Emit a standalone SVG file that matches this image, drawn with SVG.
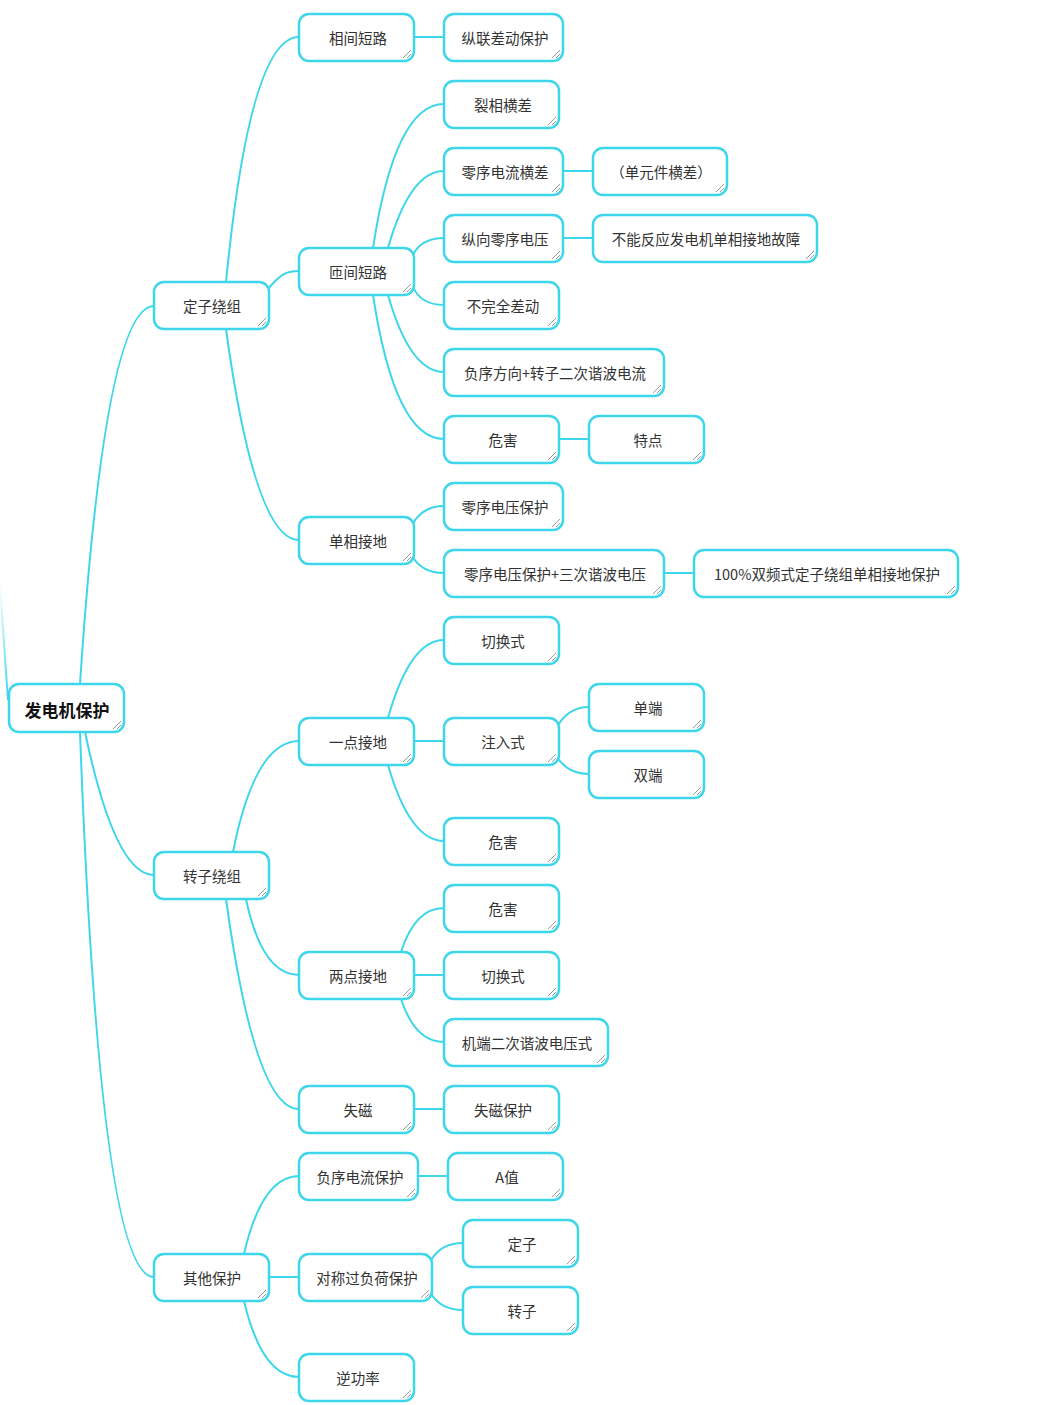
<svg xmlns="http://www.w3.org/2000/svg" xmlns:xlink="http://www.w3.org/1999/xlink" width="1038" height="1405" viewBox="0 0 1038 1405">
<style>
  .box { fill: #ffffff; stroke: #3dd6ea; stroke-width: 2.5; }
  .t { font-family: "Noto Sans CJK SC", "Noto Sans", sans-serif; font-size: 14.5px; fill: #333333; text-anchor: middle; dominant-baseline: central; }
  .root { font-size: 17px; font-weight: bold; fill: #111111; }
  .c { fill: none; stroke: #3dd6ea; stroke-width: 2; }
  .grip { stroke: #9a9a9a; stroke-width: 1; fill: none; }
</style>
<defs>
  <g id="grip">
    <path class="grip" d="M-11,-3 L-3,-11 M-7,-3 L-3,-7"/>
  </g>
  <linearGradient id="fade" x1="0" y1="0" x2="0" y2="1">
    <stop offset="0" stop-color="#3dd6ea" stop-opacity="0"/>
    <stop offset="1" stop-color="#3dd6ea" stop-opacity="1"/>
  </linearGradient>
</defs>
<rect width="1038" height="1405" fill="#ffffff"/>

<g id="connectors">
  <path d="M0,585 L8,700" fill="none" stroke="url(#fade)" stroke-width="2"/>
  <path class="c" d="M80,684 Q105,306 154,306"/>
  <path class="c" d="M85,732 Q115,875 154,875"/>
  <path class="c" d="M80,732 Q100,1277 154,1277"/>

  <path class="c" d="M226,282 Q250,37 299,37"/>
  <path class="c" d="M267,290 C280,275 285,271 299,271"/>
  <path class="c" d="M226,329 Q255,540 299,540"/>

  <path class="c" d="M414,37 L444,37"/>

  <path class="c" d="M373,248 Q395,104 444,104"/>
  <path class="c" d="M388,248 Q410,171 444,171"/>
  <path class="c" d="M412,257 Q420,238 444,238"/>
  <path class="c" d="M412,285 Q420,305 444,305"/>
  <path class="c" d="M388,295 Q410,372 444,372"/>
  <path class="c" d="M373,295 Q395,439 444,439"/>

  <path class="c" d="M563,171 L593,171"/>
  <path class="c" d="M563,238 L593,238"/>
  <path class="c" d="M559,439 L589,439"/>

  <path class="c" d="M412,525 Q422,506 444,506"/>
  <path class="c" d="M412,556 Q422,573 444,573"/>
  <path class="c" d="M664,573 L694,573"/>

  <path class="c" d="M233,852 Q255,741 299,741"/>
  <path class="c" d="M246,899 Q262,975 299,975"/>
  <path class="c" d="M226,899 Q255,1109 299,1109"/>

  <path class="c" d="M388,718 Q410,640 444,640"/>
  <path class="c" d="M414,741 L444,741"/>
  <path class="c" d="M388,765 Q410,841 444,841"/>

  <path class="c" d="M557,727 Q568,707 589,707"/>
  <path class="c" d="M557,757 Q568,774 589,774"/>

  <path class="c" d="M401,952 Q415,908 444,908"/>
  <path class="c" d="M414,975 L444,975"/>
  <path class="c" d="M401,999 Q415,1042 444,1042"/>

  <path class="c" d="M414,1109 L444,1109"/>

  <path class="c" d="M244,1254 Q262,1176 299,1176"/>
  <path class="c" d="M269,1277 L299,1277"/>
  <path class="c" d="M244,1301 Q262,1377 299,1377"/>

  <path class="c" d="M418,1176 L448,1176"/>
  <path class="c" d="M430,1262 Q440,1243 463,1243"/>
  <path class="c" d="M430,1292 Q440,1310 463,1310"/>
</g>

<g id="n-root"><rect class="box" x="9" y="684" width="115" height="48" rx="10"/><use href="#grip" x="124" y="732"/><text class="t root" x="67" y="709">发电机保护</text></g>

<g id="n-dzrz"><rect class="box" x="154" y="282" width="115" height="47" rx="10"/><use href="#grip" x="269" y="329"/><text class="t" x="212" y="305">定子绕组</text></g>
<g id="n-zzrz"><rect class="box" x="154" y="852" width="115" height="47" rx="10"/><use href="#grip" x="269" y="899"/><text class="t" x="212" y="875">转子绕组</text></g>
<g id="n-qtbh"><rect class="box" x="154" y="1254" width="115" height="47" rx="10"/><use href="#grip" x="269" y="1301"/><text class="t" x="212" y="1277">其他保护</text></g>

<g id="n-xjdl"><rect class="box" x="299" y="14" width="115" height="47" rx="10"/><use href="#grip" x="414" y="61"/><text class="t" x="358" y="37">相间短路</text></g>
<g id="n-zjdl"><rect class="box" x="299" y="248" width="115" height="47" rx="10"/><use href="#grip" x="414" y="295"/><text class="t" x="358" y="271">匝间短路</text></g>
<g id="n-dxjd"><rect class="box" x="299" y="517" width="115" height="47" rx="10"/><use href="#grip" x="414" y="564"/><text class="t" x="358" y="540">单相接地</text></g>
<g id="n-ydjd"><rect class="box" x="299" y="718" width="115" height="47" rx="10"/><use href="#grip" x="414" y="765"/><text class="t" x="358" y="741">一点接地</text></g>
<g id="n-ldjd"><rect class="box" x="299" y="952" width="115" height="47" rx="10"/><use href="#grip" x="414" y="999"/><text class="t" x="358" y="975">两点接地</text></g>
<g id="n-sc"><rect class="box" x="299" y="1086" width="115" height="47" rx="10"/><use href="#grip" x="414" y="1133"/><text class="t" x="358" y="1109">失磁</text></g>
<g id="n-fxdl"><rect class="box" x="299" y="1153" width="119" height="47" rx="10"/><use href="#grip" x="418" y="1200"/><text class="t" x="360" y="1176">负序电流保护</text></g>
<g id="n-dcgfh"><rect class="box" x="299" y="1254" width="133" height="47" rx="10"/><use href="#grip" x="432" y="1301"/><text class="t" x="367" y="1277">对称过负荷保护</text></g>
<g id="n-ngl"><rect class="box" x="299" y="1354" width="115" height="47" rx="10"/><use href="#grip" x="414" y="1401"/><text class="t" x="358" y="1377">逆功率</text></g>

<g id="n-zlcd"><rect class="box" x="444" y="14" width="119" height="47" rx="10"/><use href="#grip" x="563" y="61"/><text class="t" x="505" y="37">纵联差动保护</text></g>
<g id="n-lxhc"><rect class="box" x="444" y="81" width="115" height="47" rx="10"/><use href="#grip" x="559" y="128"/><text class="t" x="503" y="104">裂相横差</text></g>
<g id="n-lxdlhc"><rect class="box" x="444" y="148" width="119" height="47" rx="10"/><use href="#grip" x="563" y="195"/><text class="t" x="505" y="171">零序电流横差</text></g>
<g id="n-zxlxdy"><rect class="box" x="444" y="215" width="119" height="47" rx="10"/><use href="#grip" x="563" y="262"/><text class="t" x="505" y="238">纵向零序电压</text></g>
<g id="n-bwqcd"><rect class="box" x="444" y="282" width="115" height="47" rx="10"/><use href="#grip" x="559" y="329"/><text class="t" x="503" y="305">不完全差动</text></g>
<g id="n-fxfx"><rect class="box" x="444" y="349" width="220" height="47" rx="10"/><use href="#grip" x="664" y="396"/><text class="t" x="555" y="372">负序方向+转子二次谐波电流</text></g>
<g id="n-wh1"><rect class="box" x="444" y="416" width="115" height="47" rx="10"/><use href="#grip" x="559" y="463"/><text class="t" x="503" y="439">危害</text></g>
<g id="n-lxdybh"><rect class="box" x="444" y="483" width="119" height="47" rx="10"/><use href="#grip" x="563" y="530"/><text class="t" x="505" y="506">零序电压保护</text></g>
<g id="n-lxdysc"><rect class="box" x="444" y="550" width="220" height="47" rx="10"/><use href="#grip" x="664" y="597"/><text class="t" x="555" y="573">零序电压保护+三次谐波电压</text></g>
<g id="n-qhs1"><rect class="box" x="444" y="617" width="115" height="47" rx="10"/><use href="#grip" x="559" y="664"/><text class="t" x="503" y="640">切换式</text></g>
<g id="n-zrs"><rect class="box" x="444" y="718" width="115" height="47" rx="10"/><use href="#grip" x="559" y="765"/><text class="t" x="503" y="741">注入式</text></g>
<g id="n-wh2"><rect class="box" x="444" y="818" width="115" height="47" rx="10"/><use href="#grip" x="559" y="865"/><text class="t" x="503" y="841">危害</text></g>
<g id="n-wh3"><rect class="box" x="444" y="885" width="115" height="47" rx="10"/><use href="#grip" x="559" y="932"/><text class="t" x="503" y="908">危害</text></g>
<g id="n-qhs2"><rect class="box" x="444" y="952" width="115" height="47" rx="10"/><use href="#grip" x="559" y="999"/><text class="t" x="503" y="975">切换式</text></g>
<g id="n-jdec"><rect class="box" x="444" y="1019" width="164" height="47" rx="10"/><use href="#grip" x="608" y="1066"/><text class="t" x="527" y="1042">机端二次谐波电压式</text></g>
<g id="n-scbh"><rect class="box" x="444" y="1086" width="115" height="47" rx="10"/><use href="#grip" x="559" y="1133"/><text class="t" x="503" y="1109">失磁保护</text></g>
<g id="n-az"><rect class="box" x="448" y="1153" width="115" height="47" rx="10"/><use href="#grip" x="563" y="1200"/><text class="t" x="507" y="1176">A值</text></g>
<g id="n-dz"><rect class="box" x="463" y="1220" width="115" height="47" rx="10"/><use href="#grip" x="578" y="1267"/><text class="t" x="522" y="1243">定子</text></g>
<g id="n-zz"><rect class="box" x="463" y="1287" width="115" height="47" rx="10"/><use href="#grip" x="578" y="1334"/><text class="t" x="522" y="1310">转子</text></g>

<g id="n-dyjhc"><rect class="box" x="593" y="148" width="134" height="47" rx="10"/><use href="#grip" x="727" y="195"/><text class="t" x="661" y="171">（单元件横差）</text></g>
<g id="n-bnfy"><rect class="box" x="593" y="215" width="224" height="47" rx="10"/><use href="#grip" x="817" y="262"/><text class="t" x="706" y="238">不能反应发电机单相接地故障</text></g>
<g id="n-td"><rect class="box" x="589" y="416" width="115" height="47" rx="10"/><use href="#grip" x="704" y="463"/><text class="t" x="648" y="439">特点</text></g>
<g id="n-100"><rect class="box" x="694" y="550" width="264" height="47" rx="10"/><use href="#grip" x="958" y="597"/><text class="t" x="827" y="573">100%双频式定子绕组单相接地保护</text></g>
<g id="n-dd"><rect class="box" x="589" y="684" width="115" height="47" rx="10"/><use href="#grip" x="704" y="731"/><text class="t" x="648" y="707">单端</text></g>
<g id="n-sd"><rect class="box" x="589" y="751" width="115" height="47" rx="10"/><use href="#grip" x="704" y="798"/><text class="t" x="648" y="774">双端</text></g>
</svg>
